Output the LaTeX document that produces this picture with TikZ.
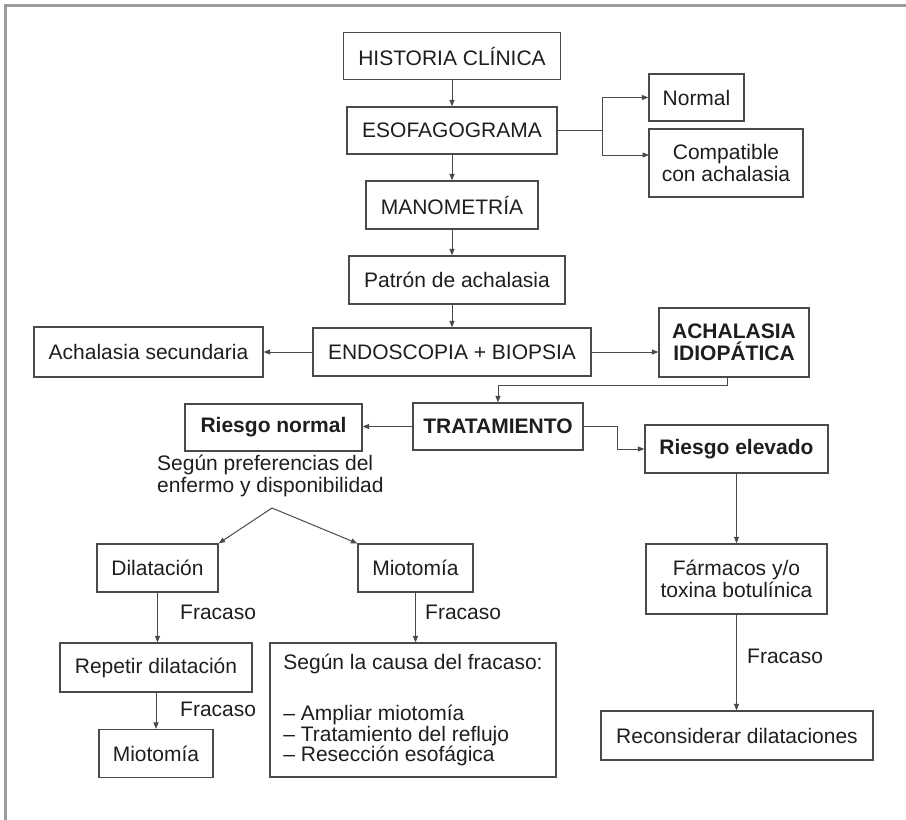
\documentclass[tikz,border=0pt]{standalone}
\usepackage{fontspec}
\setmainfont{Liberation Sans}
\usetikzlibrary{arrows.meta}
\definecolor{ink}{HTML}{1E1E1E}
\definecolor{boxline}{HTML}{4A4A4A}
\definecolor{framegrey}{HTML}{9C9C9C}
\begin{document}
\begin{tikzpicture}[x=1pt,y=-1pt,
  font=\fontsize{21}{21.5}\selectfont,
  box/.style={draw=boxline, line width=1.2pt, text=ink, align=center, inner sep=0pt},
  boldbox/.style={box, font=\fontsize{21}{21.5}\selectfont\bfseries},
  lbl/.style={text=ink, inner sep=0pt, anchor=west},
  conn/.style={draw=boxline, line width=1pt, -{Triangle[length=6.5pt,width=5pt]}}]
\useasboundingbox (0,0) rectangle (906,820);
% outer frame (top and left edges)
\draw[framegrey, line width=2.6pt] (5.3,820) -- (5.3,5.3) -- (906,5.3);

% diagnostic column
\node[box, minimum width=217pt, minimum height=47pt] (hist) at (452,56) {HISTORIA CLÍNICA};
\node[box, minimum width=210pt, minimum height=47pt] (esof) at (452,130.5) {ESOFAGOGRAMA};
\node[box, minimum width=95pt, minimum height=47pt] (normal) at (696.5,97.5) {Normal};
\node[box, minimum width=154pt, minimum height=68pt] (compat) at (726,163) {Compatible\\con achalasia};
\node[box, minimum width=172pt, minimum height=48pt] (mano) at (452,205) {MANOMETRÍA};
\node[box, minimum width=216pt, minimum height=48pt] (patron) at (457,280) {Patrón de achalasia};
\node[box, minimum width=278pt, minimum height=48pt] (endo) at (452,352) {ENDOSCOPIA + BIOPSIA};
\node[box, minimum width=229pt, minimum height=50pt] (sec) at (148.5,352) {Achalasia secundaria};
\node[boldbox, minimum width=150pt, minimum height=69pt] (idio) at (734,342.5) {ACHALASIA\\IDIOPÁTICA};

% treatment
\node[boldbox, minimum width=170pt, minimum height=47pt] (trat) at (498,426.5) {TRATAMIENTO};
\node[boldbox, minimum width=177pt, minimum height=47pt] (rnorm) at (273.5,427.5) {Riesgo normal};
\node[boldbox, minimum width=183pt, minimum height=48pt] (relev) at (736.5,449) {Riesgo elevado};

\node[lbl, align=left] (pref) at (157,476) {Según preferencias del\\enfermo y disponibilidad};
\coordinate (apex) at (272,508);

\node[box, minimum width=121pt, minimum height=48pt] (dil) at (157.5,568) {Dilatación};
\node[box, minimum width=115pt, minimum height=48pt] (mio1) at (415.5,568) {Miotomía};
\node[box, minimum width=192pt, minimum height=49pt] (rep) at (156,667.5) {Repetir dilatación};
\node[box, minimum width=114pt, minimum height=48pt] (mio2) at (156,753.5) {Miotomía};
\node[box, align=left, minimum width=286pt, inner xsep=13.5pt, minimum height=134pt,
      font=\fontsize{21}{20.5}\selectfont] (causa) at (413,710)
  {Según la causa del fracaso:\\[31pt]– Ampliar miotomía\\– Tratamiento del reflujo\\– Resección esofágica};
\node[box, minimum width=181pt, minimum height=70pt] (farm) at (736.5,579) {Fármacos y/o\\toxina botulínica};
\node[box, minimum width=272pt, minimum height=49pt] (recon) at (737,735.5) {Reconsiderar dilataciones};

% failure labels
\node[lbl] (f1) at (180,612) {Fracaso};
\node[lbl] (f2) at (180,709) {Fracaso};
\node[lbl] (f3) at (425,612) {Fracaso};
\node[lbl] (f4) at (747,656) {Fracaso};

% connectors
\coordinate (cpin) at (649,155);
\draw[conn] (hist.south) -- (esof.north);
\draw[conn] (esof.east) -- ++(45,0) |- (normal.west);
\draw[conn] (esof.east) -- ++(45,0) |- (cpin);
\draw[conn] (esof.south) -- (mano.north);
\draw[conn] (mano.south) -- (mano.south |- patron.north);
\draw[conn] (endo.north |- patron.south) -- (endo.north);
\draw[conn] (endo.west) -- (sec.east);
\draw[conn] (endo.east) -- (endo.east -| idio.west);
\draw[conn] ([xshift=-7pt]idio.south) -- ++(0,8) -| (trat.north);
\draw[conn] (trat.west) -- (trat.west -| rnorm.east);
\draw[conn] (trat.east) -- ++(34,0) |- (relev.west);
\draw[conn] (relev.south) -- (farm.north);
\draw[conn] (farm.south) -- (farm.south |- recon.north);
\draw[conn] (apex) -- (dil.north east);
\draw[conn] (apex) -- (mio1.north west);
\draw[conn] (dil.south) -- (dil.south |- rep.north);
\draw[conn] (rep.south) -- (rep.south |- mio2.north);
\draw[conn] (mio1.south) -- (mio1.south |- causa.north);
\end{tikzpicture}
\end{document}
